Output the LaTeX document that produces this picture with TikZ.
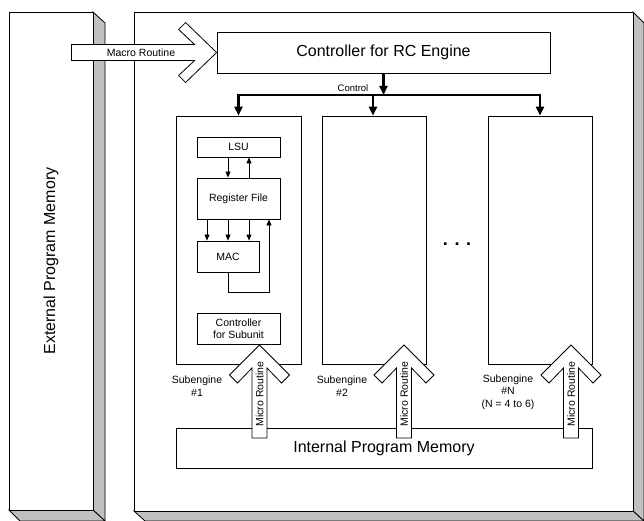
\documentclass[tikz,border=0pt]{standalone}
\usepackage{fontspec}
\setmainfont{Liberation Sans}
\usepackage{tikz}
\usetikzlibrary{
    arrows.meta,
    positioning,
    calc
}
\definecolor{sidegray}{HTML}{C0C0C0}

\begin{document}
\begin{tikzpicture}[
        x=1bp, y=-1bp,
        >={Triangle[length=6bp,width=5bp]},
        box/.style={
            draw,
            fill=white,
            line width=0.8bp,
            inner sep=0pt,
            align=center
        },
        side/.style={
            draw,
            fill=sidegray,
            line width=0.8bp
        },
        bigtext/.style={font=\fontsize{16bp}{19bp}\selectfont},
        smalltext/.style={font=\fontsize{10.5bp}{12.5bp}\selectfont},
        blockarrow/.style={draw, fill=white, line width=0.8bp, line join=miter},
        bus/.style={line width=2.2bp},
        busarrow/.style={line width=2.2bp, -{Triangle[length=9bp,width=8bp]}},
        thin/.style={line width=0.8bp}
    ]
        \useasboundingbox (0,0) rectangle (644,521);
        % external memory block
        \draw[side] (93,12) -- (105,23) -- (105,521) -- (93,510) -- cycle;
        \draw[side] (9,510) -- (93,510) -- (105,521) -- (20,521) -- cycle;
        \node[box, minimum width=84bp, minimum height=498bp] (ext) at (51,261) {};
        \node[bigtext, rotate=90] (extlabel) at (ext.center) {External Program Memory};
        % engine block
        \draw[side] (633,12) -- (644,23) -- (644,521) -- (633,511) -- cycle;
        \draw[side] (134,511) -- (633,511) -- (644,521) -- (145,521) -- cycle;
        \node[box, minimum width=499bp, minimum height=499bp] (eng) at (383.5,261.5) {};

        \node[box, bigtext, minimum width=333bp, minimum height=41bp] (ctl) at (383.5,52.5) {Controller for RC Engine};
        \node[box, minimum width=125bp, minimum height=248bp] (sub1) at (238.5,240) {};
        \node[box, minimum width=104bp, minimum height=248bp] (sub2) at (374,240) {};
        \node[box, minimum width=104bp, minimum height=248bp] (subN) at (540,240) {};
        \node[box, bigtext, minimum width=416bp, minimum height=40bp] (ipm) at (384,448) {Internal Program Memory};

        \node[box, smalltext, minimum width=83bp, minimum height=20bp] (lsu) at (238.5,147) {LSU};
        \node[box, smalltext, minimum width=83bp, minimum height=41bp] (regf) at (238.5,198.5) {Register File};
        \node[box, smalltext, minimum width=62bp, minimum height=31bp] (mac) at (228,256.5) {MAC};
        \node[box, smalltext, minimum width=83bp, minimum height=31bp] (csub) at (238.5,328.5) {Controller\\for Subunit};

        \draw[thin, ->] ([xshift=-10.5bp]lsu.south) -- ([xshift=-10.5bp]regf.north);
        \draw[thin, ->] ([xshift=10.5bp]regf.north) -- ([xshift=10.5bp]lsu.south);
        \foreach \dx in {-31.5, -10.5, 10.5}
            \draw[thin, ->] ([xshift=\dx bp]regf.south) -- ([xshift=\dx bp]regf.south |- mac.north);
        \draw[thin, ->] (mac.south) -- ++(0,20) -| ([xshift=30.5bp]regf.south);

        \coordinate (bus) at (383.5,95);
        \draw[busarrow] (ctl.south) -- (bus);
        \draw[bus] ([xshift=-1.1bp]sub1.north |- bus) -- ([xshift=1.1bp]subN.north |- bus);
        \draw[busarrow] (sub1.north |- bus) -- (sub1.north);
        \draw[busarrow] ([xshift=-1bp]sub2.north |- bus) -- ([xshift=-1bp]sub2.north);
        \draw[busarrow] (subN.north |- bus) -- (subN.north);
        \node[smalltext, font=\fontsize{9.5bp}{11bp}\selectfont] (ctllabel) at (353,88.5) {Control};

        \draw[blockarrow] (ctl.west) -- ++(-31,-30) -- ++(-7,7) -- ++(16,15) -- ++(-123,0)
            -- ++(0,16) -- ++(123,0) -- ++(-16,15) -- ++(7,7) -- cycle;
        \node[smalltext] (macrolabel) at (141,53) {Macro Routine};

        \foreach \x/\n in {259.5/1, 404/2, 571/N} {
            \draw[blockarrow] (\x,345) -- ++(-30,30) -- ++(8,8) -- ++(14.5,-15) -- ++(0,70)
                -- ++(15,0) -- ++(0,-70) -- ++(14.5,15) -- ++(8,-8) -- cycle;
            \node[smalltext, rotate=90] (micro\n) at (\x,394) {Micro Routine};
        }

        \node[smalltext, align=center] (lab1) at (197,386) {Subengine\\\#1};
        \node[smalltext, align=center] (lab2) at (342,386) {Subengine\\\#2};
        \node[smalltext, align=center] (labN) at (508,392) {Subengine\\\#N\\(N = 4 to 6)};
        \node[font=\fontsize{18bp}{20bp}\selectfont\bfseries, anchor=base] (dots) at (457,246) {. . .};
    \end{tikzpicture}
\end{document}
